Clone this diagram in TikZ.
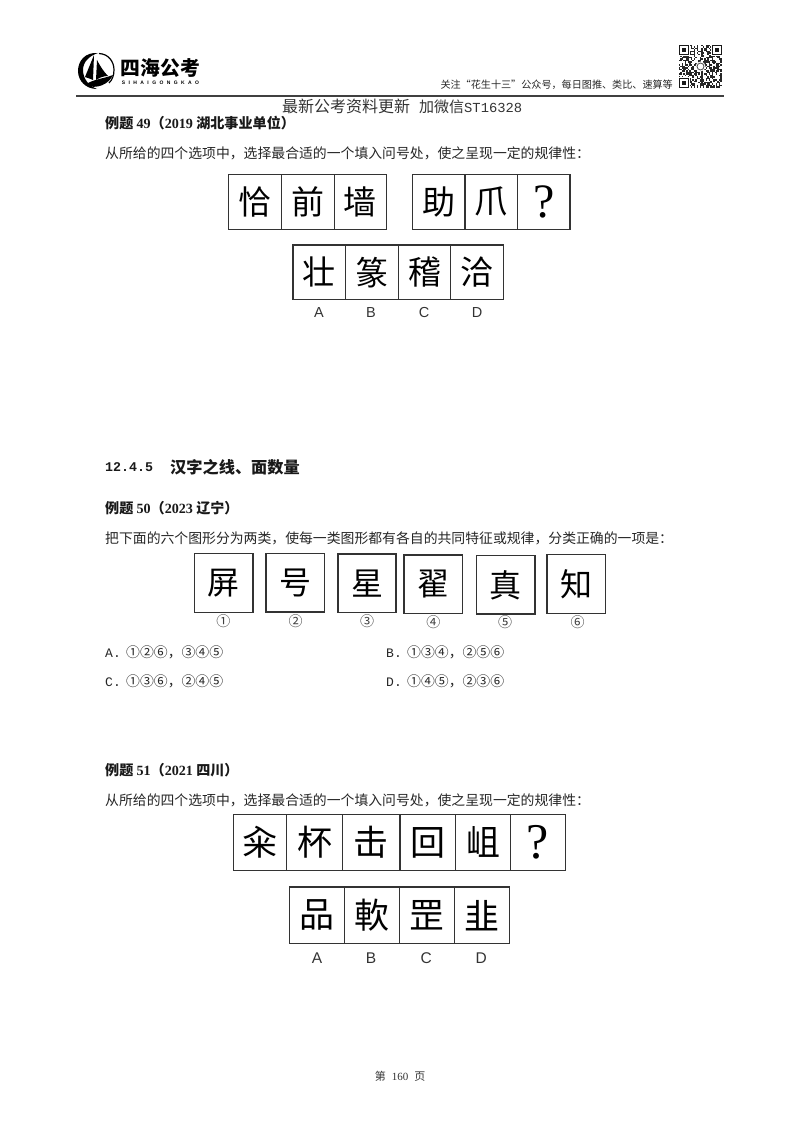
\documentclass[tikz,border=0pt]{standalone}
\usepackage{fontspec}
\setmainfont{Noto Sans CJK SC}
\newfontfamily\serifnum{Liberation Serif}
\newfontfamily\mononum{Liberation Mono}
\newfontfamily\sansnum{Liberation Sans}
\usetikzlibrary{positioning}

\tikzset{
  body/.style={anchor=west, inner sep=0pt, text=black!85, font=\fontsize{13.85}{16}\selectfont},
  head/.style={anchor=west, inner sep=0pt, text=black!90, font=\fontsize{14.1}{16}\selectfont\bfseries},
  cell/.style={draw=black!80, line width=1.1pt, rectangle, inner sep=0pt},
  hanzia/.style={cell, minimum width=52.6pt, minimum height=54.5pt, font=\fontsize{33}{34}\selectfont},
  hanzib/.style={cell, minimum width=58.4pt, minimum height=58.4pt, line width=1.3pt, font=\fontsize{32}{34}\selectfont},
  hanzic/.style={cell, minimum height=56.7pt, font=\fontsize{35}{36}\selectfont},
  opta/.style={inner sep=0pt, text=black!80, font=\fontsize{14.5}{16}\selectfont\sansnum},
  order/.style={inner sep=0pt, text=black!75, font=\fontsize{14}{15}\selectfont},
}
\newcommand{\anslabel}[1]{{\fontsize{13}{16}\selectfont\mononum #1.}\hspace{5.4pt}}

\begin{document}
\begin{tikzpicture}[x=1pt,y=-1pt]
\useasboundingbox (0,0) rectangle (800,1132);

% Logo
\fill (98,53) .. controls (85,52) and (78,61) .. (78,71) .. controls (78,81) and (86,89) .. (97,89)
  .. controls (89,86) and (83,79) .. (83,70) .. controls (83,62) and (89,56) .. (98,53) -- cycle;
\draw[line width=1.2pt] (99,53.5) .. controls (109,54) and (114,62) .. (114,70) .. controls (114,76) and (112,80) .. (109,83);
\fill (94,55) -- (85,77) .. controls (88,78) and (91,79) .. (93,80) -- cycle;
\fill (97,60) .. controls (100,66) and (104,72) .. (108,76) .. controls (103,76) and (99,78) .. (96,80) -- cycle;
\fill (85,85) .. controls (93,79) and (103,79) .. (113,75) .. controls (109,84) and (97,90) .. (85,85) -- cycle;
\node[inner sep=0pt, font=\fontsize{19.8}{20}\selectfont\bfseries] (logotext) at (160.5,68) {四海公考};
\node[inner sep=0pt, font=\fontsize{5}{5}\selectfont\sansnum\bfseries] (logosub) at (160.5,82.5) {S\hspace{3.4pt}I\hspace{3.4pt}H\hspace{3.4pt}A\hspace{3.4pt}I\hspace{3.4pt}G\hspace{3.4pt}O\hspace{3.4pt}N\hspace{3.4pt}G\hspace{3.4pt}K\hspace{3.4pt}A\hspace{3.4pt}O};

% Header text and rule
\node[anchor=east, inner sep=0pt, text=black!85, font=\fontsize{10.1}{11}\selectfont] (follow) at (673,84.5) {关注“花生十三”公众号，每日图推、类比、速算等};
\draw[line width=1.3pt, black!75] (76,96) -- (724,96);
\node[anchor=west, inner sep=0pt, text=black!80, font=\fontsize{16}{17}\selectfont] (update) at (282,106.5) {最新公考资料更新\hspace{9pt}\fontsize{15}{17}\selectfont 加微信{\fontsize{13.8}{17}\selectfont\mononum ST16328}};

% QR code
\pgfmathsetseed{160}
\foreach \i in {0,...,28} {
  \foreach \j in {0,...,28} {
    \pgfmathrandominteger{\qrbit}{0}{1}
    \ifnum\qrbit=1
      \fill[black!85] (679+\i*1.48,45+\j*1.48) rectangle ++(1.48,1.48);
    \fi
  }
}
\foreach \qx/\qy in {679/45, 711.6/45, 679/77.6} {
  \fill[white] (\qx-1,\qy-1) rectangle ++(12.4,12.4);
  \draw[line width=1.4pt, black!90] (\qx+0.7,\qy+0.7) rectangle ++(9,9);
  \fill[black!90] (\qx+3.2,\qy+3.2) rectangle ++(4,4);
}
\fill[white] (700.5,66.5) circle[radius=5];
\draw[black!70, line width=0.8pt] (700.5,66.5) circle[radius=3.5];

% Question 49
\node[head] (q49) at (105,123) {例题 {\serifnum 49}（{\serifnum 2019} 湖北事业单位）};
\node[body] (q49text) at (105,153) {从所给的四个选项中，选择最合适的一个填入问号处，使之呈现一定的规律性：};

\node[hanzia] (a1) at (255.2,201.8) {恰};
\node[hanzia] (a2) at (307.8,201.8) {前};
\node[hanzia] (a3) at (360.4,201.8) {墙};
\node[hanzia] (a4) at (438.7,201.8) {助};
\node[hanzia] (a5) at (491.3,201.8) {爪};
\node[hanzia, font=\fontsize{48}{48}\selectfont\serifnum] (a6) at (543.7,201.8) {?};

\node[hanzia] (ao1) at (319.3,272.2) {壮};
\node[hanzia] (ao2) at (372,272.2) {篆};
\node[hanzia] (ao3) at (424.5,272.2) {稽};
\node[hanzia] (ao4) at (477,272.2) {洽};
\node[opta] (al1) at (319,312.7) {A};
\node[opta] (al2) at (371,312.7) {B};
\node[opta] (al3) at (424,312.7) {C};
\node[opta] (al4) at (477,312.7) {D};

% Section title
\node[anchor=west, inner sep=0pt, text=black!90, font=\fontsize{13.3}{16}\selectfont\mononum\bfseries] (sec) at (105,467) {12.4.5};
\node[anchor=west, inner sep=0pt, text=black!90, font=\fontsize{16.2}{18}\selectfont\bfseries] (sectext) at (170,467) {汉字之线、面数量};

% Question 50
\node[head] (q50) at (105,508) {例题 {\serifnum 50}（{\serifnum 2023} 辽宁）};
\node[body] (q50text) at (105,538) {把下面的六个图形分为两类，使每一类图形都有各自的共同特征或规律，分类正确的一项是：};

\node[hanzib] (b1) at (223.7,583) {屏};
\node[hanzib] (b2) at (295.3,582.7) {号};
\node[hanzib, line width=1.6pt] (b3) at (367,583.3) {星};
\node[hanzib] (b4) at (433.3,584.2) {翟};
\node[hanzib] (b5) at (505.8,584.9) {真};
\node[hanzib] (b6) at (576.3,584) {知};
\node[order] (bl1) at (223.3,620.7) {①};
\node[order] (bl2) at (295.7,621) {②};
\node[order] (bl3) at (367,621) {③};
\node[order] (bl4) at (433.3,622.3) {④};
\node[order] (bl5) at (505,622.3) {⑤};
\node[order] (bl6) at (577.7,622.3) {⑥};

\node[body] (ansa) at (105,652) {\anslabel{A}①②⑥，③④⑤};
\node[body] (ansb) at (386,652) {\anslabel{B}①③④，②⑤⑥};
\node[body] (ansc) at (105,681) {\anslabel{C}①③⑥，②④⑤};
\node[body] (ansd) at (386,681) {\anslabel{D}①④⑤，②③⑥};

% Question 51
\node[head] (q51) at (105,770) {例题 {\serifnum 51}（{\serifnum 2021} 四川）};
\node[body] (q51text) at (105,800) {从所给的四个选项中，选择最合适的一个填入问号处，使之呈现一定的规律性：};

\node[hanzic, minimum width=53pt] (c1) at (260.2,842.4) {籴};
\node[hanzic, minimum width=56pt] (c2) at (314.7,842.4) {杯};
\node[hanzic, minimum width=57.3pt] (c3) at (371.3,842.4) {击};
\node[hanzic, minimum width=55.7pt] (c4) at (427.8,842.4) {回};
\node[hanzic, minimum width=54.6pt] (c5) at (483,842.4) {岨};
\node[hanzic, minimum width=54.7pt, font=\fontsize{50}{50}\selectfont\serifnum] (c6) at (537.7,842.4) {?};

\node[hanzic, minimum width=55pt] (co1) at (317.2,915.3) {品};
\node[hanzic, minimum width=54.6pt] (co2) at (372,915.3) {軟};
\node[hanzic, minimum width=55pt] (co3) at (426.8,915.3) {罡};
\node[hanzic, minimum width=54.7pt] (co4) at (481.7,915.3) {韭};
\node[opta, font=\fontsize{15.5}{16}\selectfont\sansnum] (cl1) at (317,958.3) {A};
\node[opta, font=\fontsize{15.5}{16}\selectfont\sansnum] (cl2) at (371,958.3) {B};
\node[opta, font=\fontsize{15.5}{16}\selectfont\sansnum] (cl3) at (426.3,958.3) {C};
\node[opta, font=\fontsize{15.5}{16}\selectfont\sansnum] (cl4) at (481.3,958.3) {D};

% Page number
\node[inner sep=0pt, text=black!80, font=\fontsize{11}{12}\selectfont] (page) at (400,1076) {第\hspace{6pt}{\serifnum 160}\hspace{6pt}页};

\end{tikzpicture}
\end{document}
